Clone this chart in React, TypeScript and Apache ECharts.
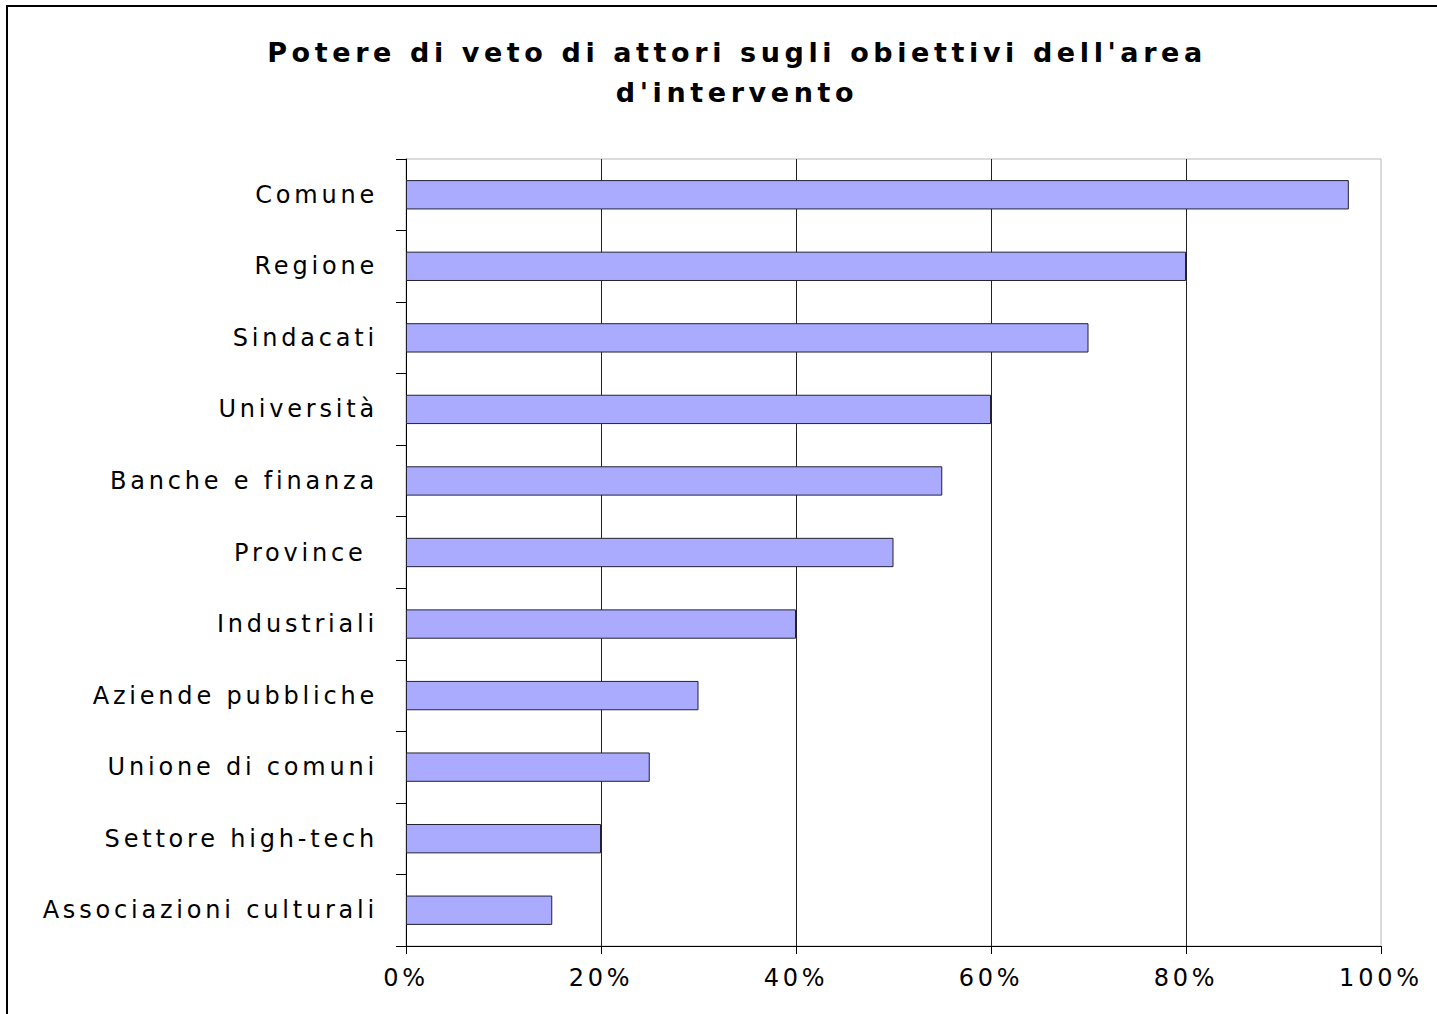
import React, { useEffect, useRef } from "react";
import * as echarts from "echarts";

const titleText = "Potere di veto di attori sugli obiettivi dell'area\nd'intervento";
const categories = [
  "Comune",
  "Regione",
  "Sindacati",
  "Università",
  "Banche e finanza",
  "Province ",
  "Industriali",
  "Aziende pubbliche",
  "Unione di comuni",
  "Settore high-tech",
  "Associazioni culturali",
];
const values = [96.7, 80, 70, 60, 55, 50, 40, 30, 25, 20, 15];
const xTicks = [0, 20, 40, 60, 80, 100];

const FONT = "'DejaVu Sans', 'Liberation Sans', Arial, sans-serif";

export default function App() {
  const ref = useRef<HTMLDivElement>(null);

  useEffect(() => {
    if (!ref.current) return;
    const chart = echarts.init(ref.current, null, { renderer: "svg" });
    chart.setOption({
      animation: false,
      backgroundColor: "#ffffff",
      title: {
        text: titleText,
        left: 737,
        top: 32,
        padding: 0,
        textAlign: "center",
        textStyle: {
          fontFamily: FONT,
          fontSize: 27,
          fontWeight: "bold",
          color: "#000",
          lineHeight: 40,
        },
      },
      graphic: [
        {
          type: "rect",
          shape: { x: 7, y: 6, width: 1600, height: 1200 },
          style: { fill: "none", stroke: "#000", lineWidth: 2 },
          silent: true,
        },
      ],
      grid: {
        left: 406,
        right: 56,
        top: 159,
        bottom: 68,
        show: true,
        borderColor: "#b8b8b8",
        borderWidth: 1,
        backgroundColor: "transparent",
        containLabel: false,
      },
      xAxis: {
        type: "value",
        min: xTicks[0],
        max: xTicks[xTicks.length - 1],
        interval: 20,
        axisLine: { show: true, lineStyle: { color: "#000", width: 1 } },
        axisTick: { show: true, inside: false, length: 8, lineStyle: { color: "#000" } },
        splitLine: {
          show: true,
          showMinLine: false,
          showMaxLine: false,
          lineStyle: { color: "#222", width: 1 },
        },
        axisLabel: {
          formatter: (v: number) => `${v}%`,
          fontFamily: FONT,
          fontSize: 24,
          color: "#000",
          margin: 20,
        },
      },
      yAxis: {
        type: "category",
        data: categories,
        inverse: true,
        axisLine: { show: true, lineStyle: { color: "#000", width: 1 } },
        axisTick: { show: true, inside: false, length: 10, lineStyle: { color: "#000" } },
        splitLine: { show: false },
        axisLabel: {
          fontFamily: FONT,
          fontSize: 24,
          color: "#000",
          margin: 28,
        },
      },
      series: [
        {
          type: "bar",
          data: values,
          barCategoryGap: "59%",
          itemStyle: { color: "#aaaaff", borderColor: "#222233", borderWidth: 1 },
          silent: true,
        },
      ],
    });
    return () => chart.dispose();
  }, []);

  return (
    <>
      <style>{`
        .chart-root text { letter-spacing: 3.8px; }
        .chart-root text[style*="bold"] { letter-spacing: 4.6px; }
      `}</style>
      <div
        ref={ref}
        className="chart-root"
        style={{ position: "absolute", left: 0, top: 0, width: 1437, height: 1014 }}
      />
    </>
  );
}
